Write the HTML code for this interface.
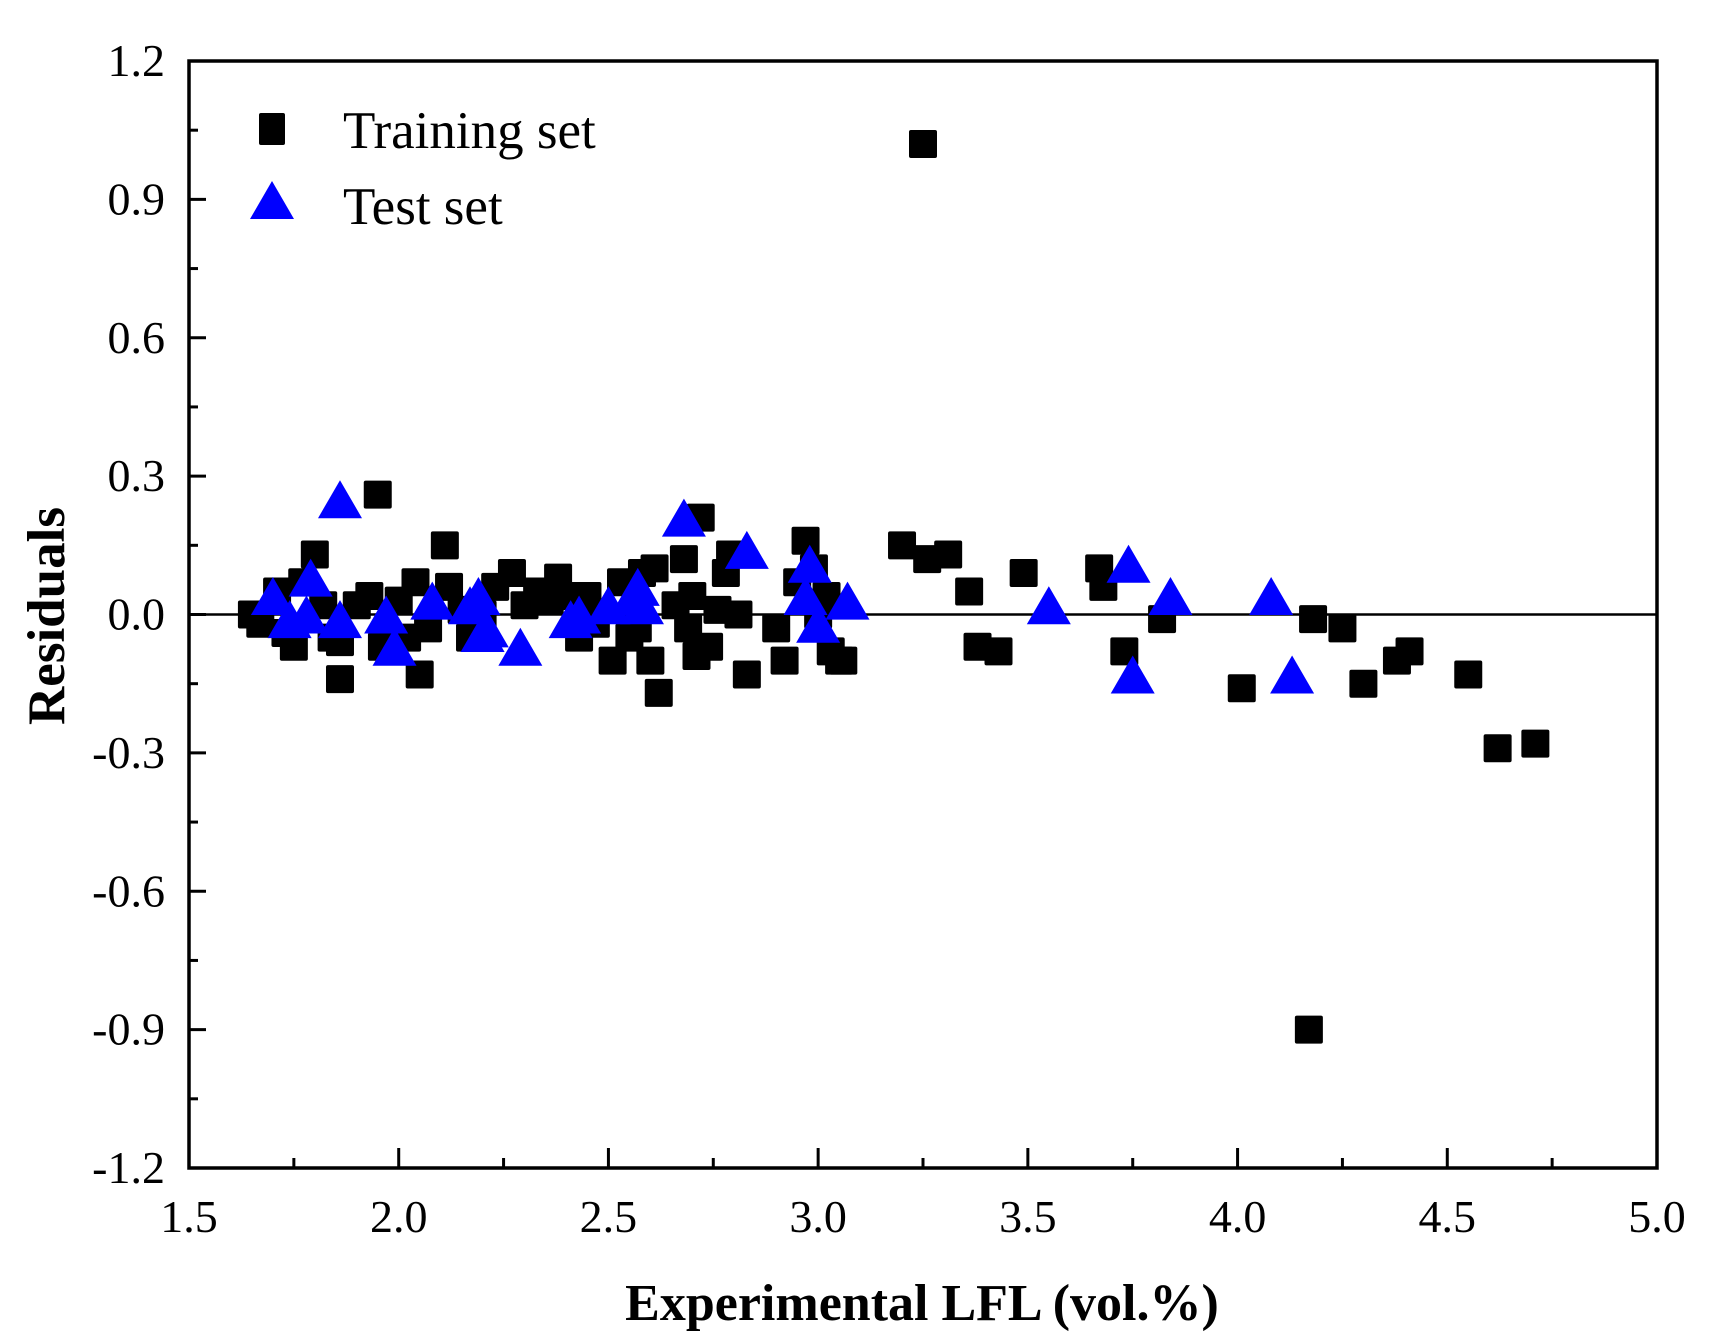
<!DOCTYPE html>
<html><head><meta charset="utf-8"><style>
body{margin:0;background:#fff;}
svg{display:block;font-family:"Liberation Serif",serif;}
</style></head><body>
<svg id="chart" width="1711" height="1338"></svg>
<script>
const trainX=[1.65,1.67,1.71,1.73,1.75,1.77,1.8,1.82,1.84,1.86,1.86,1.9,1.93,1.95,1.96,2.0,2.02,2.04,2.05,2.07,2.11,2.12,2.15,2.17,2.2,2.23,2.27,2.3,2.33,2.36,2.38,2.4,2.43,2.45,2.47,2.51,2.53,2.55,2.57,2.58,2.6,2.61,2.62,2.66,2.68,2.69,2.7,2.71,2.72,2.74,2.76,2.78,2.79,2.81,2.83,2.9,2.92,2.95,2.97,2.99,3.0,3.02,3.03,3.05,3.06,3.2,3.25,3.26,3.31,3.36,3.38,3.43,3.49,3.67,3.68,3.73,3.82,4.01,4.17,4.18,4.25,4.3,4.38,4.41,4.55,4.62,4.71];
const trainY=[0.0,-0.02,0.05,-0.04,-0.07,0.07,0.13,0.02,-0.05,-0.06,-0.14,0.02,0.04,0.26,-0.07,0.03,-0.05,0.07,-0.13,-0.03,0.15,0.06,0.01,-0.05,0.0,0.06,0.09,0.02,0.05,0.03,0.08,0.04,-0.05,0.04,-0.02,-0.1,0.07,-0.05,-0.03,0.09,-0.1,0.1,-0.17,0.02,0.12,-0.03,0.04,-0.09,0.21,-0.07,0.01,0.09,0.13,0.0,-0.13,-0.03,-0.1,0.07,0.16,0.1,0.0,0.04,-0.08,-0.1,-0.1,0.15,1.02,0.12,0.13,0.05,-0.07,-0.08,0.09,0.1,0.06,-0.08,-0.01,-0.16,-0.9,-0.01,-0.03,-0.15,-0.1,-0.08,-0.13,-0.29,-0.28];
const testX=[1.7,1.74,1.78,1.79,1.86,1.86,1.97,1.99,2.08,2.17,2.19,2.2,2.21,2.29,2.41,2.43,2.5,2.56,2.57,2.58,2.68,2.83,2.97,2.98,3.0,3.07,3.55,3.74,3.75,3.84,4.08,4.13];
const testY=[0.04,-0.01,0.0,0.08,0.25,-0.01,0.0,-0.07,0.03,0.02,0.04,-0.04,-0.03,-0.07,-0.01,0.0,0.02,0.04,0.06,0.02,0.21,0.14,0.04,0.11,-0.02,0.03,0.02,0.11,-0.13,0.04,0.04,-0.13];
const xTicks=[1.5,2.0,2.5,3.0,3.5,4.0,4.5,5.0];
const yTicks=[-1.2,-0.9,-0.6,-0.3,0.0,0.3,0.6,0.9,1.2];

const L=189,R=1666-9,T=61,B=1168;
const sx=v=>L+(v-1.5)/3.5*(R-L);
const sy=v=>B-(v+1.2)/2.4*(B-T);
const NS="http://www.w3.org/2000/svg";
const svg=document.getElementById('chart');
function mk(tag,attrs,parent){const e=document.createElementNS(NS,tag);for(const k in attrs)e.setAttribute(k,attrs[k]);(parent||svg).appendChild(e);return e;}

let z=mk('line',{x1:L,x2:R,y1:sy(0),y2:sy(0),stroke:'#000','stroke-width':2.5});



yTicks.forEach((v,i)=>{
  let t=mk('line',{x1:L,x2:L+17,y1:sy(v),y2:sy(v),stroke:'#000','stroke-width':3});
  
  
  if(i<yTicks.length-1){
    let m=mk('line',{x1:L,x2:L+9,y1:sy(v+0.15),y2:sy(v+0.15),stroke:'#000','stroke-width':3});
    
    
  }
  let lb=mk('text',{x:L-24,y:sy(v)+15,'text-anchor':'end','font-size':46});
  lb.textContent=v.toFixed(1);
  
  
});
xTicks.forEach((v,i)=>{
  let t=mk('line',{x1:sx(v),x2:sx(v),y1:B,y2:B-20,stroke:'#000','stroke-width':3});
  
  
  if(i<xTicks.length-1){
    let m=mk('line',{x1:sx(v+0.25),x2:sx(v+0.25),y1:B,y2:B-10,stroke:'#000','stroke-width':3});
    
    
  }
  let lb=mk('text',{x:sx(v),y:B+64,'text-anchor':'middle','font-size':46});
  lb.textContent=v.toFixed(1);
  
  
});

const S=28;
trainX.forEach((x,i)=>{
  let r=mk('rect',{x:sx(x)-S/2,y:sy(trainY[i])-S/2,width:S,height:S,rx:2,fill:'#000'});
  
  
});
function tri(cx,cy){const w=22,h=19;return `${cx},${cy-h} ${cx-w},${cy+h} ${cx+w},${cy+h}`;}
testX.forEach((x,i)=>{
  let p=mk('polygon',{points:tri(sx(x),sy(testY[i])),fill:'#0000ff'});
  
  
});

let f=mk('rect',{x:L,y:T,width:R-L,height:B-T,fill:'none',stroke:'#000','stroke-width':3.5});



let lg=mk('g',{});


let ls=mk('rect',{x:272-13,y:129-16,width:26,height:32,rx:2,fill:'#000'},lg);


let lt1=mk('text',{x:343,y:148,'font-size':53},lg);
lt1.textContent='Training set';


let lp=mk('polygon',{points:tri(272,200),fill:'#0000ff'},lg);


let lt2=mk('text',{x:343,y:224,'font-size':53},lg);
lt2.textContent='Test set';



let xt=mk('text',{x:922,y:1320,'text-anchor':'middle','font-size':52,'font-weight':'bold'});
xt.textContent='Experimental LFL (vol.%)';


let yt=mk('text',{x:0,y:0,'text-anchor':'middle','font-size':53,'font-weight':'bold',transform:'translate(64,616) rotate(-90)'});
yt.textContent='Residuals';


</script>
</body></html>
